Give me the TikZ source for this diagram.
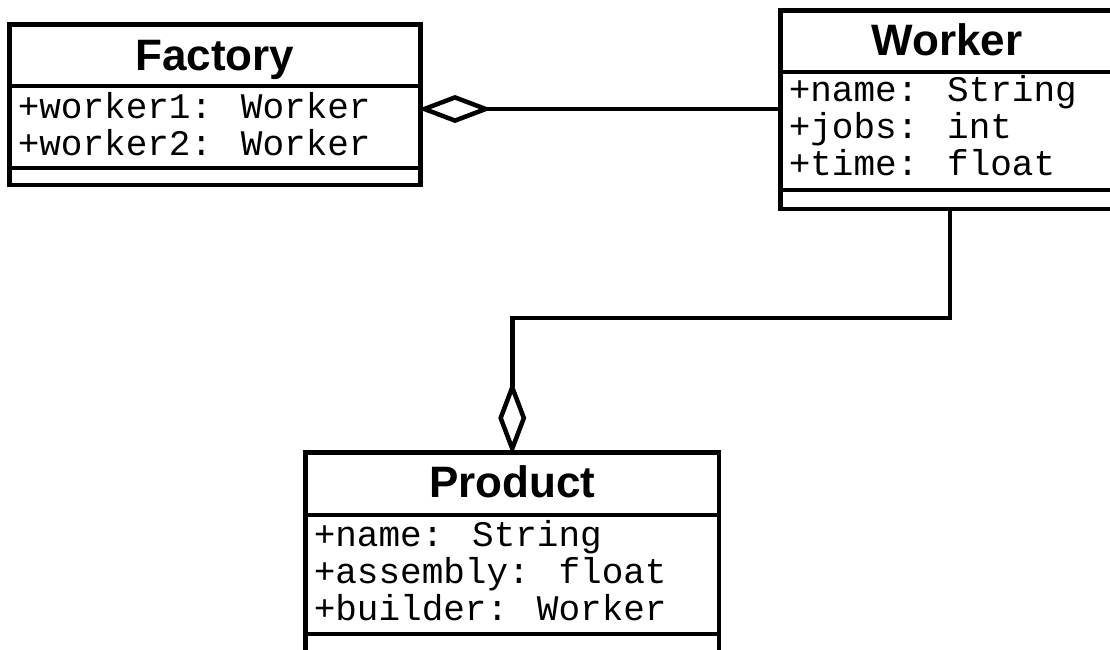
\documentclass[tikz,border=0pt]{standalone}
\usepackage{fontspec}
\usepackage{tikz}
\usetikzlibrary{arrows.meta}
\newfontfamily\headfont{Liberation Sans}
\newfontfamily\fieldfont{Liberation Mono}

\begin{document}
\begin{tikzpicture}[x=1pt,y=-1pt,line width=4.5pt,
  box/.style={draw,anchor=north west,inner sep=0pt,outer sep=0pt},
  head/.style={font=\headfont\bfseries\fontsize{44}{44}\selectfont,anchor=base,inner sep=0pt},
  field/.style={font=\fieldfont\fontsize{36}{36}\selectfont,anchor=base west,inner sep=0pt},
  agg/.style={-{Diamond[open,length=74pt,width=28pt]},shorten >=-2.5pt}]
\useasboundingbox (0,0) rectangle (1110,649);
% Factory
\node[box,minimum width=411,minimum height=61.5] (ftitle) at (9.5,24.5) {};
\node[box,minimum width=411,minimum height=82] (fattr) at (ftitle.south west) {};
\node[box,minimum width=411,minimum height=17] (fops) at (fattr.south west) {};
\node[head] (fname) at (215,70) {Factory};
\node[field] (f1) at (15.5,118.3) {+worker1: Worker};
\node[field] (f2) at (15.5,155) {+worker2: Worker};
% Worker
\node[box,minimum width=333,minimum height=61.5] (wtitle) at (780.5,10.5) {};
\node[box,minimum width=333,minimum height=118] (wattr) at (wtitle.south west) {};
\node[box,minimum width=333,minimum height=19] (wops) at (wattr.south west) {};
\node[head] (wname) at (947,55) {Worker};
\node[field] (w1) at (786.5,101.7) {+name: String};
\node[field] (w2) at (786.5,138.3) {+jobs: int};
\node[field] (w3) at (786.5,175) {+time: float};
% Product
\node[box,minimum width=413.5,minimum height=62.5] (ptitle) at (305.5,452.5) {};
\node[box,minimum width=413.5,minimum height=119] (pattr) at (ptitle.south west) {};
\node[box,minimum width=413.5,minimum height=19] (pops) at (pattr.south west) {};
\node[head] (pname) at (512.25,497) {Product};
\node[field] (p1) at (311.5,546.7) {+name: String};
\node[field] (p2) at (311.5,583.3) {+assembly: float};
\node[field] (p3) at (311.5,620) {+builder: Worker};
% aggregations
\draw[agg] (wattr.west |- 0,109) -- (fattr.east |- 0,109);
\draw[agg] ([xshift=3pt]wops.south) -- ++(0,109) -| (ptitle.north);
\end{tikzpicture}
\end{document}
